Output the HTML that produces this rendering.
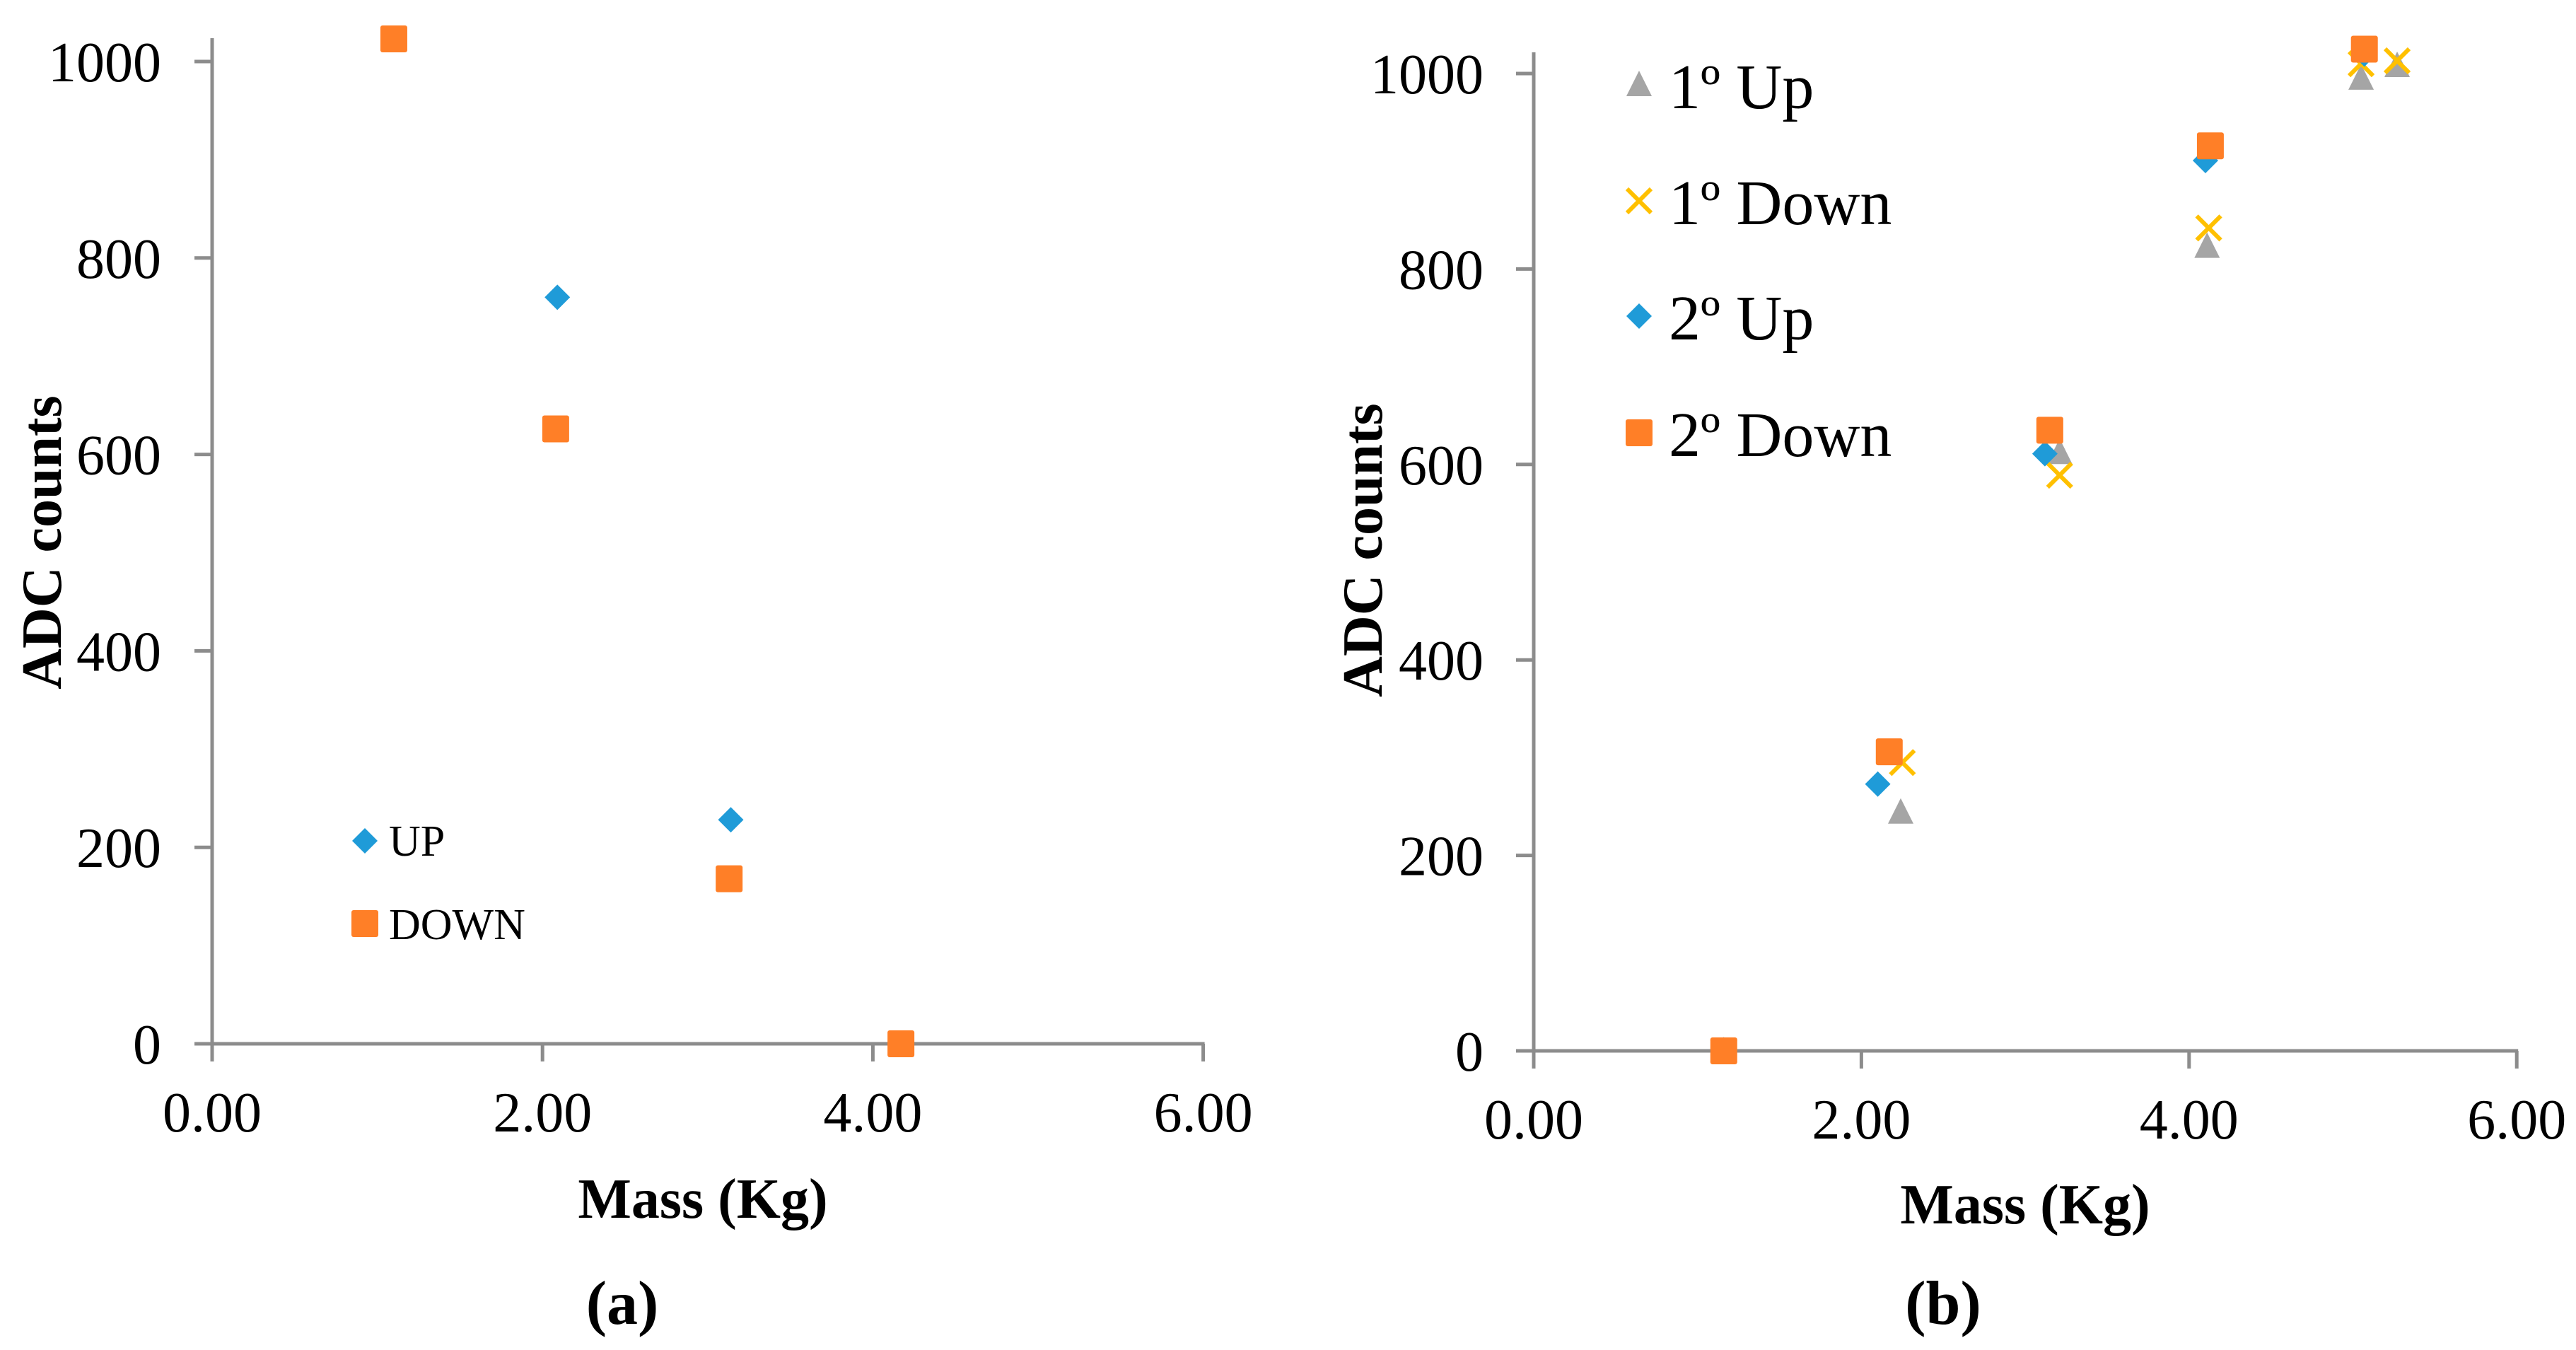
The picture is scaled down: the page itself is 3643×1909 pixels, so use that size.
<!DOCTYPE html>
<html><head><meta charset="utf-8"><style>
html,body{margin:0;padding:0;background:#fff;}
svg{display:block;font-family:"Liberation Serif",serif;}
</style></head><body>
<svg id="fig" width="3643" height="1909" viewBox="0 0 3643 1909" xmlns="http://www.w3.org/2000/svg">
<g id="ca"></g>
<g id="cb"></g>
</svg>
<script>
const xTicks = [0, 2, 4, 6];
const xTickLabels = ["0.00", "2.00", "4.00", "6.00"];
const yTicks = [0, 200, 400, 600, 800, 1000];
const yTickLabels = ["0", "200", "400", "600", "800", "1000"];

const aUpX = [2.09, 3.14];
const aUpY = [760, 228];
const aDownX = [1.10, 2.08, 3.13, 4.17];
const aDownY = [1023, 626, 168, 0];

const b1UpX = [1.16, 2.24, 3.21, 4.11, 5.05, 5.27];
const b1UpY = [0, 244, 612, 823, 995, 1008];
const b1DownX = [1.16, 2.25, 3.21, 4.12, 5.05, 5.27];
const b1DownY = [0, 295, 589, 842, 1010, 1013];
const b2UpX = [1.16, 2.10, 3.12, 4.10, 5.07];
const b2UpY = [0, 273, 611, 911, 1020];
const b2DownX = [1.16, 2.17, 3.15, 4.13, 5.07];
const b2DownY = [0, 306, 635, 926, 1025];

const NS = "http://www.w3.org/2000/svg";
function mk(parent, tag, attrs, text) {
  const e = document.createElementNS(NS, tag);
  for (const k in attrs) e.setAttribute(k, attrs[k]);
  if (text !== undefined) e.textContent = text;
  parent.appendChild(e);
  return e;
}
const AX = "#8c8c8c";
const ORANGE = "#ff7f27", BLUE = "#1f9bd8", GRAY = "#a5a5a5", YELLOW = "#ffc000";

function marker(g, type, cx, cy, name) {
  let e;
  if (type === "square") {
    e = mk(g, "rect", {x: cx - 19, y: cy - 19, width: 38, height: 38, rx: 3, fill: ORANGE});
  } else if (type === "diamond") {
    e = mk(g, "polygon", {points: `${cx},${cy-18} ${cx+18},${cy} ${cx},${cy+18} ${cx-18},${cy}`, fill: BLUE});
  } else if (type === "triangle") {
    e = mk(g, "polygon", {points: `${cx},${cy-20} ${cx+18},${cy+16} ${cx-18},${cy+16}`, fill: GRAY});
  } else {
    e = mk(g, "path", {d: `M${cx-17},${cy-17}L${cx+17},${cy+17}M${cx+17},${cy-17}L${cx-17},${cy+17}`, stroke: YELLOW, "stroke-width": 6, fill: "none"});
  }
  
  
  return e;
}

function axes(g, cfg) {
  const sx = v => cfg.x0 + v * cfg.xu;
  const sy = v => cfg.y0 - v * cfg.yu;
  const ya = mk(g, "line", {x1: cfg.x0, y1: cfg.top, x2: cfg.x0, y2: cfg.y0 + 25, stroke: AX, "stroke-width": 5});
  
  
  const xa = mk(g, "line", {x1: cfg.x0 - 25, y1: cfg.y0, x2: sx(6) + 2, y2: cfg.y0, stroke: AX, "stroke-width": 5});
  
  
  yTicks.forEach((v, i) => {
    const t = mk(g, "line", {x1: cfg.x0 - 25, y1: sy(v), x2: cfg.x0, y2: sy(v), stroke: AX, "stroke-width": 5});
    
    
    const l = mk(g, "text", {x: cfg.yLabR, y: sy(v) + 28, "text-anchor": "end", "font-size": 80}, yTickLabels[i]);
    
    
  });
  xTicks.forEach((v, i) => {
    const t = mk(g, "line", {x1: sx(v), y1: cfg.y0, x2: sx(v), y2: cfg.y0 + 25, stroke: AX, "stroke-width": 5});
    
    
    const l = mk(g, "text", {x: sx(v), y: cfg.xLabY, "text-anchor": "middle", "font-size": 80}, xTickLabels[i]);
    
    
  });
  const xt = mk(g, "text", {x: cfg.xtX, y: cfg.xtY, "text-anchor": "middle", "font-size": 80, "font-weight": "bold"}, "Mass (Kg)");
  
  
  const yt = mk(g, "text", {x: 0, y: 0, "text-anchor": "middle", "font-size": 80, "font-weight": "bold", transform: `translate(${cfg.ytX},${cfg.ytY}) rotate(-90)`}, "ADC counts");
  
  
  const cap = mk(g, "text", {x: cfg.capX, y: 1872, "text-anchor": "middle", "font-size": 88, "font-weight": "bold"}, cfg.cap);
  
  
  return {sx, sy};
}

// Chart A
const ga = document.getElementById("ca");
const A = axes(ga, {x0: 300, xu: 233.6, y0: 1476, yu: 1.389, top: 54, yLabR: 228, xLabY: 1600, xtX: 994, xtY: 1722, ytX: 86, ytY: 767, capX: 880, cap: "(a)"});
aUpX.forEach((v, i) => marker(ga, "diamond", A.sx(v), A.sy(aUpY[i]), "up-point"));
aDownX.forEach((v, i) => marker(ga, "square", A.sx(v), A.sy(aDownY[i]), "down-point"));
marker(ga, "diamond", 516, 1189, "legend-up-marker");
let t = mk(ga, "text", {x: 550, y: 1210, "font-size": 62}, "UP");


marker(ga, "square", 516, 1306, "legend-down-marker");
t = mk(ga, "text", {x: 550, y: 1328, "font-size": 62}, "DOWN");



// Chart B
const gb = document.getElementById("cb");
const B = axes(gb, {x0: 2169, xu: 231.7, y0: 1486, yu: 1.382, top: 74, yLabR: 2098, xLabY: 1610, xtX: 2864, xtY: 1730, ytX: 1954, ytY: 778, capX: 2748, cap: "(b)"});
b1UpX.forEach((v, i) => marker(gb, "triangle", B.sx(v), B.sy(b1UpY[i]), "first-up-point"));
b1DownX.forEach((v, i) => marker(gb, "cross", B.sx(v), B.sy(b1DownY[i]), "first-down-point"));
b2UpX.forEach((v, i) => marker(gb, "diamond", B.sx(v), B.sy(b2UpY[i]), "second-up-point"));
b2DownX.forEach((v, i) => marker(gb, "square", B.sx(v), B.sy(b2DownY[i]), "second-down-point"));
const legB = [["triangle", "1º Up", 120], ["cross", "1º Down", 284], ["diamond", "2º Up", 447], ["square", "2º Down", 612]];
legB.forEach(r => {
  marker(gb, r[0], 2318, r[2], "legend-marker");
  const lt = mk(gb, "text", {x: 2360, y: r[2] + 33, "font-size": 90}, r[1]);
  
  
});
</script>
</body></html>
